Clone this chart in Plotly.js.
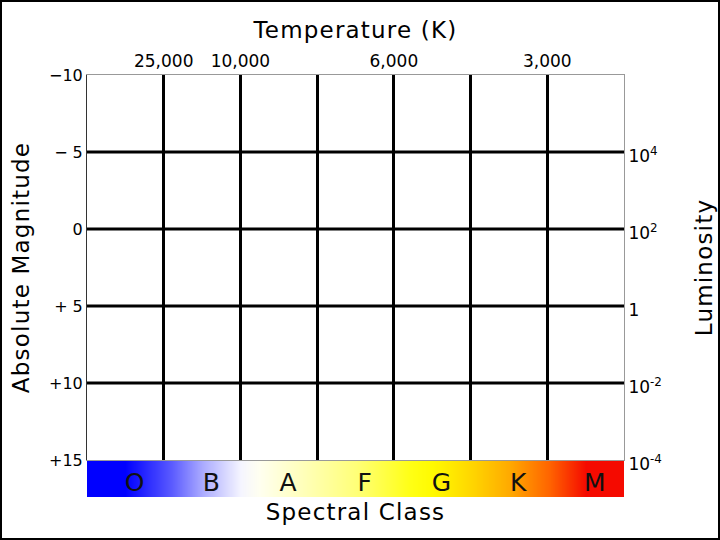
<!DOCTYPE html>
<html>
<head>
<meta charset="utf-8">
<script src="https://cdn.plot.ly/plotly-3.0.1.min.js"></script>
<style>
html,body{margin:0;padding:0;background:#fff;}
#chart{width:720px;height:540px;}
#chart text[class$="title"]{letter-spacing:1.2px;}
</style>
</head>
<body>
<div id="chart"></div>
<script>
// ---- data ----
var spectralClasses = ['O', 'B', 'A', 'F', 'G', 'K', 'M'];
var classIndex = [0, 1, 2, 3, 4, 5, 6];
var temperatureTickPos = [1, 2, 4, 6];
var temperatureTickText = ['25,000', '10,000', '6,000', '3,000'];
var magnitudeTicks = [-10, -5, 0, 5, 10, 15];
var magnitudeText = ['\u221210', '\u2212 5', '0', '+ 5', '+10', '+15'];
var luminosityTickPos = [-5, 0, 5, 10, 15];
var luminosityText = ['10<sup>4</sup>', '10<sup>2</sup>', '1', '10<sup>-2</sup>', '10<sup>-4</sup>'];
var classGridPos = [1, 2, 3, 4, 5, 6];
var magnitudeGridPos = [-5, 0, 5, 10];

// ---- styling ----
var FONT = 'DejaVu Sans, Verdana, sans-serif';
var L = 87, R = 96, T = 75, B = 43, W = 720, H = 540;
var PW = W - L - R, PH = H - T - B;
var mainBottom = (H - 460 - B) / PH;
var barTop = (H - 461 - B) / PH;

var barScale = [
  [0.0, 'rgb(0,0,255)'],
  [0.1, 'rgb(90,90,255)'],
  [0.1667, 'rgb(170,170,255)'],
  [0.25, 'rgb(245,245,255)'],
  [0.29, 'rgb(255,255,240)'],
  [0.3333, 'rgb(255,255,215)'],
  [0.5, 'rgb(255,255,120)'],
  [0.62, 'rgb(255,255,20)'],
  [0.6667, 'rgb(255,250,0)'],
  [0.75, 'rgb(255,215,0)'],
  [0.8333, 'rgb(255,170,0)'],
  [0.92, 'rgb(255,100,0)'],
  [1.0, 'rgb(245,10,0)']
];

var traces = [
  {x: [0, 7], y: [-10, 15], type: 'scatter', mode: 'markers', marker: {opacity: 0}, hoverinfo: 'skip', showlegend: false, xaxis: 'x', yaxis: 'y'},
  {x: [0, 7], y: [-10, 15], type: 'scatter', mode: 'markers', marker: {opacity: 0}, hoverinfo: 'skip', showlegend: false, xaxis: 'x2', yaxis: 'y2'},
  {
    type: 'heatmap', xaxis: 'x4', yaxis: 'y3',
    x: classIndex.map(function (i) { return i + 0.5; }),
    y: [0],
    z: [classIndex],
    zsmooth: 'best',
    colorscale: barScale,
    showscale: false,
    hoverinfo: 'skip'
  },
  {
    type: 'scatter', mode: 'text', xaxis: 'x4', yaxis: 'y3',
    x: classIndex.map(function (i) { return i + 0.62; }),
    y: classIndex.map(function () { return -0.15; }),
    text: spectralClasses,
    textposition: 'middle center',
    textfont: {family: FONT, size: 25, color: '#111'},
    hoverinfo: 'skip', showlegend: false
  }
];

var titleFont = {family: FONT, size: 23, color: '#000'};

var layout = {
  width: W, height: H,
  margin: {l: L, r: R, t: T, b: B},
  paper_bgcolor: '#fff', plot_bgcolor: '#fff',
  showlegend: false,
  font: {family: FONT, color: '#000'},
  xaxis: {
    domain: [0, 1], range: [0, 7], anchor: 'y',
    tickvals: classGridPos, showticklabels: false, ticks: '',
    showgrid: true, gridcolor: '#000', gridwidth: 3,
    showline: true, linecolor: '#999', linewidth: 1,
    zeroline: false, fixedrange: true
  },
  xaxis2: {
    overlaying: 'x', side: 'top', anchor: 'y', range: [0, 7],
    tickvals: temperatureTickPos, ticktext: temperatureTickText,
    tickfont: {family: FONT, size: 17, color: '#000'},
    ticks: '', showgrid: false, zeroline: false,
    showline: true, linecolor: '#999', linewidth: 1,
    title: {text: 'Temperature (K)', font: titleFont, standoff: 6}
  },
  yaxis: {
    domain: [mainBottom, 1], range: [15, -10], anchor: 'x',
    tickvals: magnitudeTicks, ticktext: magnitudeText,
    tickfont: {family: FONT, size: 16, color: '#000'},
    ticks: '', showgrid: false, zeroline: false,
    showline: true, linecolor: '#333', linewidth: 1,
    title: {text: 'Absolute Magnitude', font: titleFont, standoff: 12}
  },
  yaxis2: {
    overlaying: 'y', side: 'right', anchor: 'x', range: [15, -10],
    tickvals: luminosityTickPos, ticktext: luminosityText,
    tickfont: {family: FONT, size: 17, color: '#000'},
    ticklabelshift: -4,
    ticks: '', showgrid: false,
    zeroline: false, showline: true, linecolor: '#999', linewidth: 1,
    title: {text: 'Luminosity', font: titleFont, standoff: 34}
  },
  xaxis4: {
    domain: [0, 1], range: [0, 7], anchor: 'y3',
    showticklabels: false, ticks: '', showgrid: false, zeroline: false, showline: false,
    title: {text: 'Spectral Class', font: titleFont, standoff: 6}
  },
  yaxis3: {
    domain: [0, barTop], range: [-0.5, 0.5], anchor: 'x4',
    showticklabels: false, ticks: '', showgrid: false, zeroline: false, showline: false
  },
  shapes: [{
    type: 'rect', xref: 'paper', yref: 'paper',
    x0: (1 - L) / PW, x1: (W - 1 - L) / PW,
    y0: (1 - B) / PH, y1: (H - 1 - B) / PH,
    line: {color: '#000', width: 2}, fillcolor: 'rgba(0,0,0,0)'
  }]
};

layout.shapes = layout.shapes.concat(magnitudeGridPos.map(function (m) {
  return {type: 'line', xref: 'paper', yref: 'y', x0: 0, x1: 1, y0: m, y1: m, line: {color: '#000', width: 3}, layer: 'below'};
}));

Plotly.newPlot('chart', traces, layout, {displayModeBar: false, staticPlot: true});
</script>
</body>
</html>
